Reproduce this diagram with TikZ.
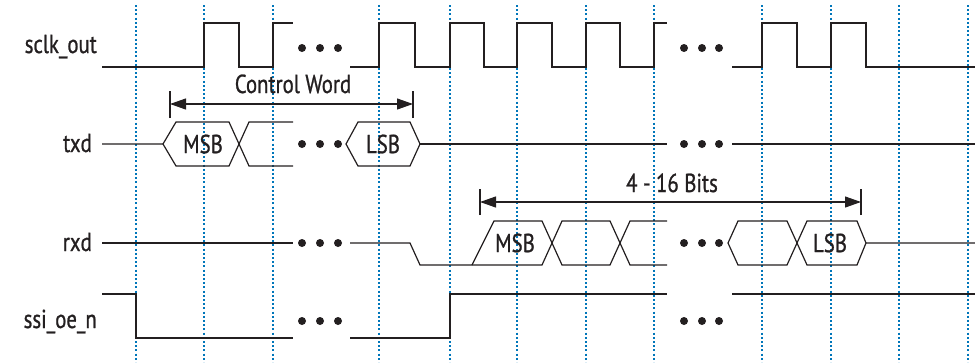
\documentclass[tikz,border=0pt]{standalone}
\usepackage{fontspec}
\setmainfont[FakeStretch=0.8, FakeBold=0.9]{PT Sans}
\usetikzlibrary{arrows.meta}
\definecolor{gridblue}{RGB}{0,118,186}
\definecolor{inkblack}{RGB}{35,31,32}

\begin{document}
\begin{tikzpicture}[x=1pt, y=-1pt,
    sig/.style={inkblack, line width=1.2pt},
    vline/.style={gridblue, line width=1.1pt, dash pattern=on 2pt off 2.2pt},
    dimline/.style={inkblack, line width=1.1pt, {Triangle[length=16pt,width=11pt]}-{Triangle[length=16pt,width=11pt]}},
    lbl/.style={inkblack, inner sep=0pt, font=\fontsize{26}{30}\selectfont}]
    \useasboundingbox (0,0) rectangle (975,362);

    % Taktraster
    \foreach \x in {136,204,273,379,450,517,586,654,762,831,899,968}
        \draw[vline] (\x,5) -- (\x,362);

    % Signalnamen
    \node[lbl, anchor=base east] (sclk) at (97,53) {sclk\_out};
    \node[lbl, anchor=base east] (txd) at (92,152) {txd};
    \node[lbl, anchor=base east] (rxd) at (92,251) {rxd};
    \node[lbl, anchor=base east] (ssi) at (97,328) {ssi\_oe\_n};

    % sclk_out
    \draw[sig] (102,67) -- (204,67) -- (204,23) -- (239,23) -- (239,67) -- (273,67) -- (273,23) -- (293,23);
    \draw[sig] (350,67) -- (379,67) -- (379,23) -- (415,23) -- (415,67) -- (450,67) -- (450,23) -- (484,23)
        -- (484,67) -- (517,67) -- (517,23) -- (552,23) -- (552,67) -- (586,67) -- (586,23) -- (620,23)
        -- (620,67) -- (654,67) -- (654,23) -- (667,23);
    \draw[sig] (732,67) -- (762,67) -- (762,23) -- (797,23) -- (797,67) -- (831,67) -- (831,23) -- (866,23)
        -- (866,67) -- (975,67);

    % Control Word
    \coordinate (cwL) at (170,104);
    \coordinate (cwR) at (413,104);
    \draw[sig] ([yshift=-14pt]cwL) -- ([yshift=13pt]cwL);
    \draw[sig] ([yshift=-14pt]cwR) -- ([yshift=13pt]cwR);
    \draw[dimline] (cwL) -- (cwR);
    \node[lbl, anchor=base] (cw) at (293,93) {Control Word};

    % txd
    \draw[sig] (102,144) -- (163,144) -- (176,122) -- (229,122) -- (249,166) -- (293,166);
    \draw[sig] (163,144) -- (176,166) -- (229,166) -- (249,122) -- (293,122);
    \draw[sig] (346,144) -- (358,122) -- (410,122) -- (420,144) -- (410,166) -- (358,166) -- cycle;
    \draw[sig] (420,144) -- (667,144);
    \draw[sig] (732,144) -- (975,144);
    \node[lbl] (msbT) at (203,144) {MSB};
    \node[lbl] (lsbT) at (383,144) {LSB};

    % 4 - 16 Bits
    \coordinate (bitL) at (480,202);
    \coordinate (bitR) at (861,202);
    \draw[sig] ([yshift=-13pt]bitL) -- ([yshift=13pt]bitL);
    \draw[sig] ([yshift=-13pt]bitR) -- ([yshift=13pt]bitR);
    \draw[dimline] (bitL) -- (bitR);
    \node[lbl, anchor=base] (bits) at (672,192) {4 - 16 Bits};

    % rxd
    \draw[sig] (102,243) -- (293,243);
    \draw[sig] (350,243) -- (410,243) -- (420,265) -- (542,265) -- (562,221) -- (610,221) -- (630,265) -- (667,265);
    \draw[sig] (472,265) -- (494,221) -- (542,221) -- (562,265) -- (610,265) -- (630,221) -- (667,221);
    \draw[sig] (728,243) -- (738,221) -- (787,221) -- (807,265) -- (857,265) -- (866,243) -- (975,243);
    \draw[sig] (728,243) -- (738,265) -- (787,265) -- (807,221) -- (857,221) -- (866,243);
    \node[lbl] (msbR) at (515,243) {MSB};
    \node[lbl] (lsbR) at (830,243) {LSB};

    % ssi_oe_n
    \draw[sig] (102,294) -- (136,294) -- (136,338) -- (293,338);
    \draw[sig] (350,338) -- (450,338) -- (450,294) -- (667,294);
    \draw[sig] (732,294) -- (975,294);

    % Auslassungspunkte
    \foreach \y in {48,144,243,321}
        \foreach \x in {302,320,338,684,702,719}
            \fill[inkblack] (\x,\y) circle (4pt);
\end{tikzpicture}
\end{document}
